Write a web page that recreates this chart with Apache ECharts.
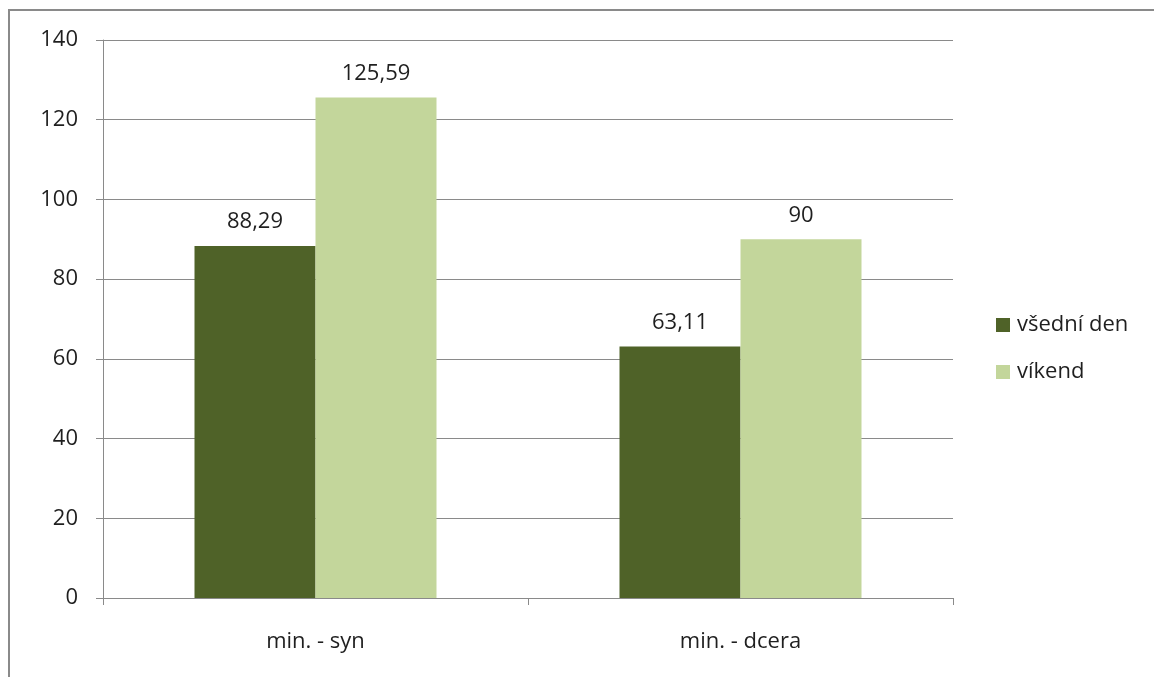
<!DOCTYPE html>
<html>
<head>
<meta charset="utf-8">
<script src="https://cdn.jsdelivr.net/npm/echarts@6/dist/echarts.min.js"></script>
<style>
  html, body { margin: 0; padding: 0; background: #fff; }
  #chart { width: 1154px; height: 677px; }
</style>
</head>
<body>
<div id="chart"></div>
<script>
// Minutes spent: weekday vs weekend, for son and daughter
const categories = ['min. - syn', 'min. - dcera'];
const seriesNames = ['všední den', 'víkend'];
const weekdayValues = [88.29, 63.11];
const weekendValues = [125.59, 90];
const yTicks = { min: 0, max: 140, interval: 20 };

const FONT = '"Open Sans", "Noto Sans", sans-serif';
const TEXT = '#1f1f1f';
const SIZE = 22;

const fmt = v => String(v).replace('.', ',');

const chart = echarts.init(document.getElementById('chart'));
chart.setOption({
  animation: false,
  backgroundColor: '#fff',
  textStyle: { fontFamily: FONT },
  graphic: [{
    type: 'rect',
    shape: { x: 9, y: 10, width: 1200, height: 700 },
    style: { fill: 'none', stroke: '#8a8a8a', lineWidth: 2 },
    silent: true
  }],
  grid: { left: 103, right: 201, top: 40, bottom: 79 },
  legend: {
    orient: 'vertical',
    left: 991,
    top: 309,
    itemWidth: 14,
    itemHeight: 14,
    itemGap: 25,
    icon: 'rect',
    textStyle: { fontFamily: FONT, fontSize: SIZE, color: TEXT, padding: [0, 0, 0, 2] },
    data: seriesNames
  },
  xAxis: {
    type: 'category',
    data: categories,
    axisLine: { lineStyle: { color: '#8a8a8a', width: 1 } },
    axisTick: { show: true, length: 7, alignWithLabel: false, lineStyle: { color: '#8a8a8a' } },
    axisLabel: { fontFamily: FONT, fontSize: SIZE, color: TEXT, margin: 33 }
  },
  yAxis: {
    type: 'value',
    min: yTicks.min,
    max: yTicks.max,
    interval: yTicks.interval,
    axisLine: { show: true, lineStyle: { color: '#8a8a8a', width: 1 } },
    axisTick: { show: true, length: 7, lineStyle: { color: '#8a8a8a' } },
    axisLabel: { fontFamily: FONT, fontSize: SIZE, color: TEXT, margin: 25 },
    splitLine: { lineStyle: { color: '#8a8a8a', width: 1 } }
  },
  series: [
    {
      name: seriesNames[0],
      type: 'bar',
      data: weekdayValues,
      barWidth: 121,
      barGap: '0%',
      itemStyle: { color: '#4f6228' },
      label: {
        show: true, position: 'top', distance: 13,
        fontFamily: FONT, fontSize: SIZE, color: TEXT,
        formatter: p => fmt(p.value)
      }
    },
    {
      name: seriesNames[1],
      type: 'bar',
      data: weekendValues,
      barWidth: 121,
      barGap: '0%',
      itemStyle: { color: '#c3d69b' },
      label: {
        show: true, position: 'top', distance: 13,
        fontFamily: FONT, fontSize: SIZE, color: TEXT,
        formatter: p => fmt(p.value)
      }
    }
  ]
});
</script>
</body>
</html>
